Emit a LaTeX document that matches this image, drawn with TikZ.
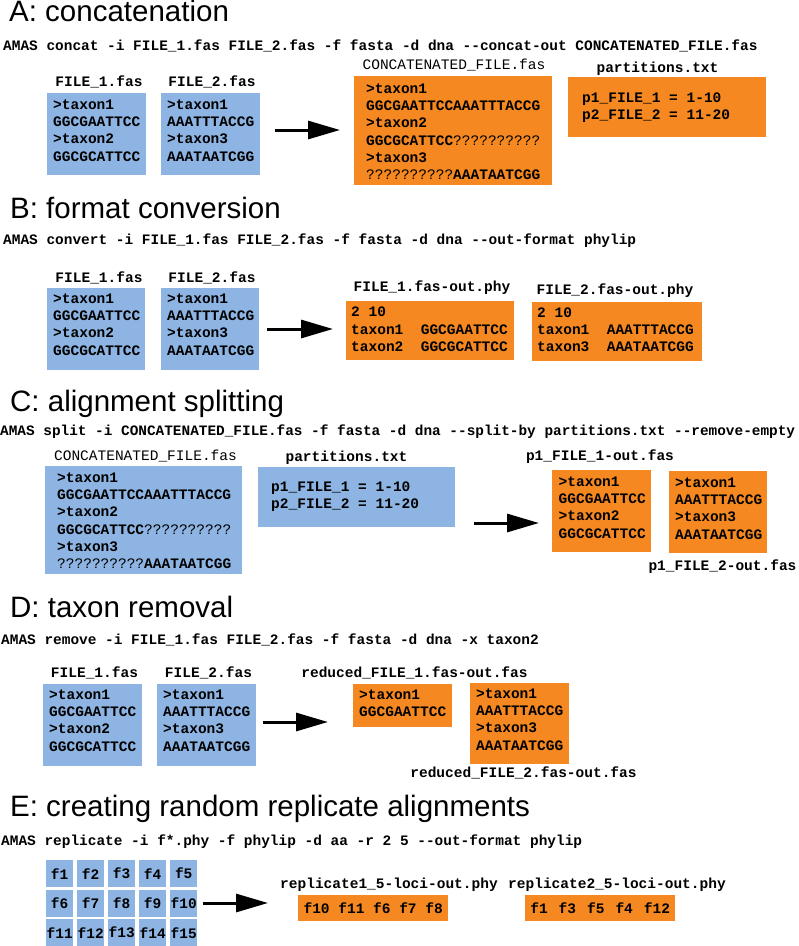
\documentclass[tikz,border=0pt]{standalone}
\usepackage{fontspec}
\setmainfont{Liberation Sans}
\setmonofont{Liberation Mono}
\usepackage{tikz}
\usetikzlibrary{arrows.meta}
\definecolor{inblue}{RGB}{141,180,226}
\definecolor{outorange}{RGB}{245,136,32}
\newcommand{\seqfont}{\ttfamily\bfseries\fontsize{14.5pt}{17.3pt}\selectfont}
\newcommand{\fnamefont}{\ttfamily\mdseries\fontsize{14.5pt}{17.3pt}\selectfont}
\tikzset{
  heading/.style={anchor=base west, inner sep=0pt, font=\fontsize{29.5pt}{32pt}\selectfont},
  cmd/.style={anchor=base west, inner sep=0pt, font=\ttfamily\bfseries\fontsize{14.45pt}{17pt}\selectfont},
  fname/.style={anchor=base, inner sep=0pt, font=\seqfont},
  seqbox/.style 2 args={anchor=north west, inner xsep=6pt, inner ysep=0pt, align=left,
    text width=#1, text height=16pt, text depth=#2, font=\seqfont,
    execute at begin node={\spaceskip=\fontdimen2\font\xspaceskip=\fontdimen2\font}},
  inbox/.style={fill=inblue},
  outbox/.style={fill=outorange},
  cell/.style={fill=inblue, anchor=north west, inner sep=0pt, minimum width=27pt,
    minimum height=27pt, font=\seqfont},
  repbox/.style={anchor=north west, inner sep=0pt, minimum width=150pt,
    minimum height=26pt, font=\seqfont},
  bigarrow/.style={line width=3pt, -{Triangle[length=32pt,width=18pt]}}
}
\begin{document}
\begin{tikzpicture}[x=1pt, y=-1pt]
        \useasboundingbox (0,0) rectangle (799,946);

        % A: concatenation
        \node[heading] (titA) at (9,21.7) {A: concatenation};
        \node[cmd] (cmdA) at (3,50) {AMAS concat -i FILE\_1.fas FILE\_2.fas -f fasta -d dna --concat-out CONCATENATED\_FILE.fas};
        \node[fname] (nA1) at (99,86) {FILE\_1.fas};
        \node[fname] (nA2) at (212,86) {FILE\_2.fas};
        \node[seqbox={87pt}{66pt}, inbox] (fA1) at (47,93) {>taxon1\\GGCGAATTCC\\>taxon2\\GGCGCATTCC};
        \node[seqbox={87pt}{66pt}, inbox] (fA2) at (161,93) {>taxon1\\AAATTTACCG\\>taxon3\\AAATAATCGG};
        \coordinate (aA0) at (275,130);
        \coordinate (aA1) at (340,130);
        \draw[bigarrow] (aA0) -- (aA1);
        \node[fname, font=\fnamefont] (nAcat) at (454,69) {CONCATENATED\_FILE.fas};
        \node[seqbox={174pt}{92pt}, outbox, inner xsep=12pt, text height=17pt] (fAcat) at (354,76)
          {>taxon1\\GGCGAATTCCAAATTTACCG\\>taxon2\\GGCGCATTCC{\mdseries ??????????}\\>taxon3\\{\mdseries ??????????}AAATAATCGG};
        \node[fname] (nApart) at (657.5,72) {partitions.txt};
        \node[seqbox={170pt}{35pt}, outbox, inner xsep=14pt, text height=25pt] (fApart) at (568,77)
          {p1\_FILE\_1 = 1-10\\p2\_FILE\_2 = 11-20};

        % B: format conversion
        \node[heading] (titB) at (10,218.3) {B: format conversion};
        \node[cmd] (cmdB) at (3,244) {AMAS convert -i FILE\_1.fas FILE\_2.fas -f fasta -d dna --out-format phylip};
        \node[fname] (nB1) at (99,282) {FILE\_1.fas};
        \node[fname] (nB2) at (212,282) {FILE\_2.fas};
        \node[seqbox={86pt}{67pt}, inbox, text height=15pt] (fB1) at (47,288) {>taxon1\\GGCGAATTCC\\>taxon2\\GGCGCATTCC};
        \node[seqbox={86pt}{67pt}, inbox, text height=15pt] (fB2) at (161,288) {>taxon1\\AAATTTACCG\\>taxon3\\AAATAATCGG};
        \coordinate (aB0) at (267,329);
        \coordinate (aB1) at (333,329);
        \draw[bigarrow] (aB0) -- (aB1);
        \node[fname] (nBout1) at (432,291.5) {FILE\_1.fas-out.phy};
        \node[seqbox={158pt}{43.5pt}, outbox, inner xsep=5pt, text height=15.5pt] (fBout1) at (346,301)
          {2 10\\taxon1\ \ GGCGAATTCC\\taxon2\ \ GGCGCATTCC};
        \node[fname] (nBout2) at (615,294) {FILE\_2.fas-out.phy};
        \node[seqbox={160pt}{44pt}, outbox, inner xsep=5pt, text height=15pt] (fBout2) at (532,302)
          {2 10\\taxon1\ \ AAATTTACCG\\taxon3\ \ AAATAATCGG};

        % C: alignment splitting
        \node[heading] (titC) at (10,411.5) {C: alignment splitting};
        \node[cmd, font=\ttfamily\bfseries\fontsize{14.4pt}{17pt}\selectfont] (cmdC) at (0,435)
          {AMAS split -i CONCATENATED\_FILE.fas -f fasta -d dna --split-by partitions.txt --remove-empty};
        \node[fname, font=\fnamefont] (nCcat) at (145.5,460) {CONCATENATED\_FILE.fas};
        \node[seqbox={173pt}{92pt}, inbox, inner xsep=12pt] (fCcat) at (45,466)
          {>taxon1\\GGCGAATTCCAAATTTACCG\\>taxon2\\GGCGCATTCC{\mdseries ??????????}\\>taxon3\\{\mdseries ??????????}AAATAATCGG};
        \node[fname] (nCpart) at (346.5,461.5) {partitions.txt};
        \node[seqbox={171pt}{36pt}, inbox, inner xsep=13pt, text height=24pt] (fCpart) at (258,467)
          {p1\_FILE\_1 = 1-10\\p2\_FILE\_2 = 11-20};
        \coordinate (aC0) at (474,523);
        \coordinate (aC1) at (539,523);
        \draw[bigarrow] (aC0) -- (aC1);
        \node[fname] (nCout1) at (600,460) {p1\_FILE\_1-out.fas};
        \node[seqbox={86pt}{66pt}, outbox, inner xsep=6.5pt] (fCout1) at (552,470) {>taxon1\\GGCGAATTCC\\>taxon2\\GGCGCATTCC};
        \node[seqbox={86pt}{66pt}, outbox] (fCout2) at (669,471) {>taxon1\\AAATTTACCG\\>taxon3\\AAATAATCGG};
        \node[fname] (nCout2) at (722.5,570.7) {p1\_FILE\_2-out.fas};

        % D: taxon removal
        \node[heading] (titD) at (10,617) {D: taxon removal};
        \node[cmd] (cmdD) at (1,644) {AMAS remove -i FILE\_1.fas FILE\_2.fas -f fasta -d dna -x taxon2};
        \node[fname] (nD1) at (94.5,677.7) {FILE\_1.fas};
        \node[fname] (nD2) at (208.5,677.7) {FILE\_2.fas};
        \node[seqbox={87pt}{67pt}, inbox, text height=15pt] (fD1) at (43,684) {>taxon1\\GGCGAATTCC\\>taxon2\\GGCGCATTCC};
        \node[seqbox={87pt}{67pt}, inbox, text height=15pt] (fD2) at (157,684) {>taxon1\\AAATTTACCG\\>taxon3\\AAATAATCGG};
        \coordinate (aD0) at (263,722);
        \coordinate (aD1) at (328,722);
        \draw[bigarrow] (aD0) -- (aD1);
        \node[fname] (nDout1) at (414.5,677.5) {reduced\_FILE\_1.fas-out.fas};
        \node[seqbox={87pt}{28pt}, outbox, text height=15pt] (fDout1) at (353,684) {>taxon1\\GGCGAATTCC};
        \node[seqbox={87pt}{66pt}, outbox, text height=15pt] (fDout2) at (470,683) {>taxon1\\AAATTTACCG\\>taxon3\\AAATAATCGG};
        \node[fname] (nDout2) at (523.5,777.5) {reduced\_FILE\_2.fas-out.fas};

        % E: random replicates
        \node[heading] (titE) at (10,816) {E: creating random replicate alignments};
        \node[cmd] (cmdE) at (1,845) {AMAS replicate -i f*.phy -f phylip -d aa -r 2 5 --out-format phylip};
        \foreach \r in {0,1,2}
          \foreach \c in {0,...,4} {
            \pgfmathtruncatemacro{\n}{5*\r+\c+1}
            \node[cell] (f\n) at ({46+31*\c},{860+29.5*\r}) {f\n};
          }
        \coordinate (aE0) at (203,903);
        \coordinate (aE1) at (268,903);
        \draw[bigarrow] (aE0) -- (aE1);
        \node[fname] (nErep1) at (389,888) {replicate1\_5-loci-out.phy};
        \node[repbox, outbox] (fErep1) at (298,895) {f10 f11 f6 f7 f8};
        \node[fname] (nErep2) at (617,888) {replicate2\_5-loci-out.phy};
        \node[repbox, outbox, execute at begin node={\spaceskip=11pt}] (fErep2) at (525,895) {f1 f3 f5 f4 f12};
      \end{tikzpicture}
\end{document}
